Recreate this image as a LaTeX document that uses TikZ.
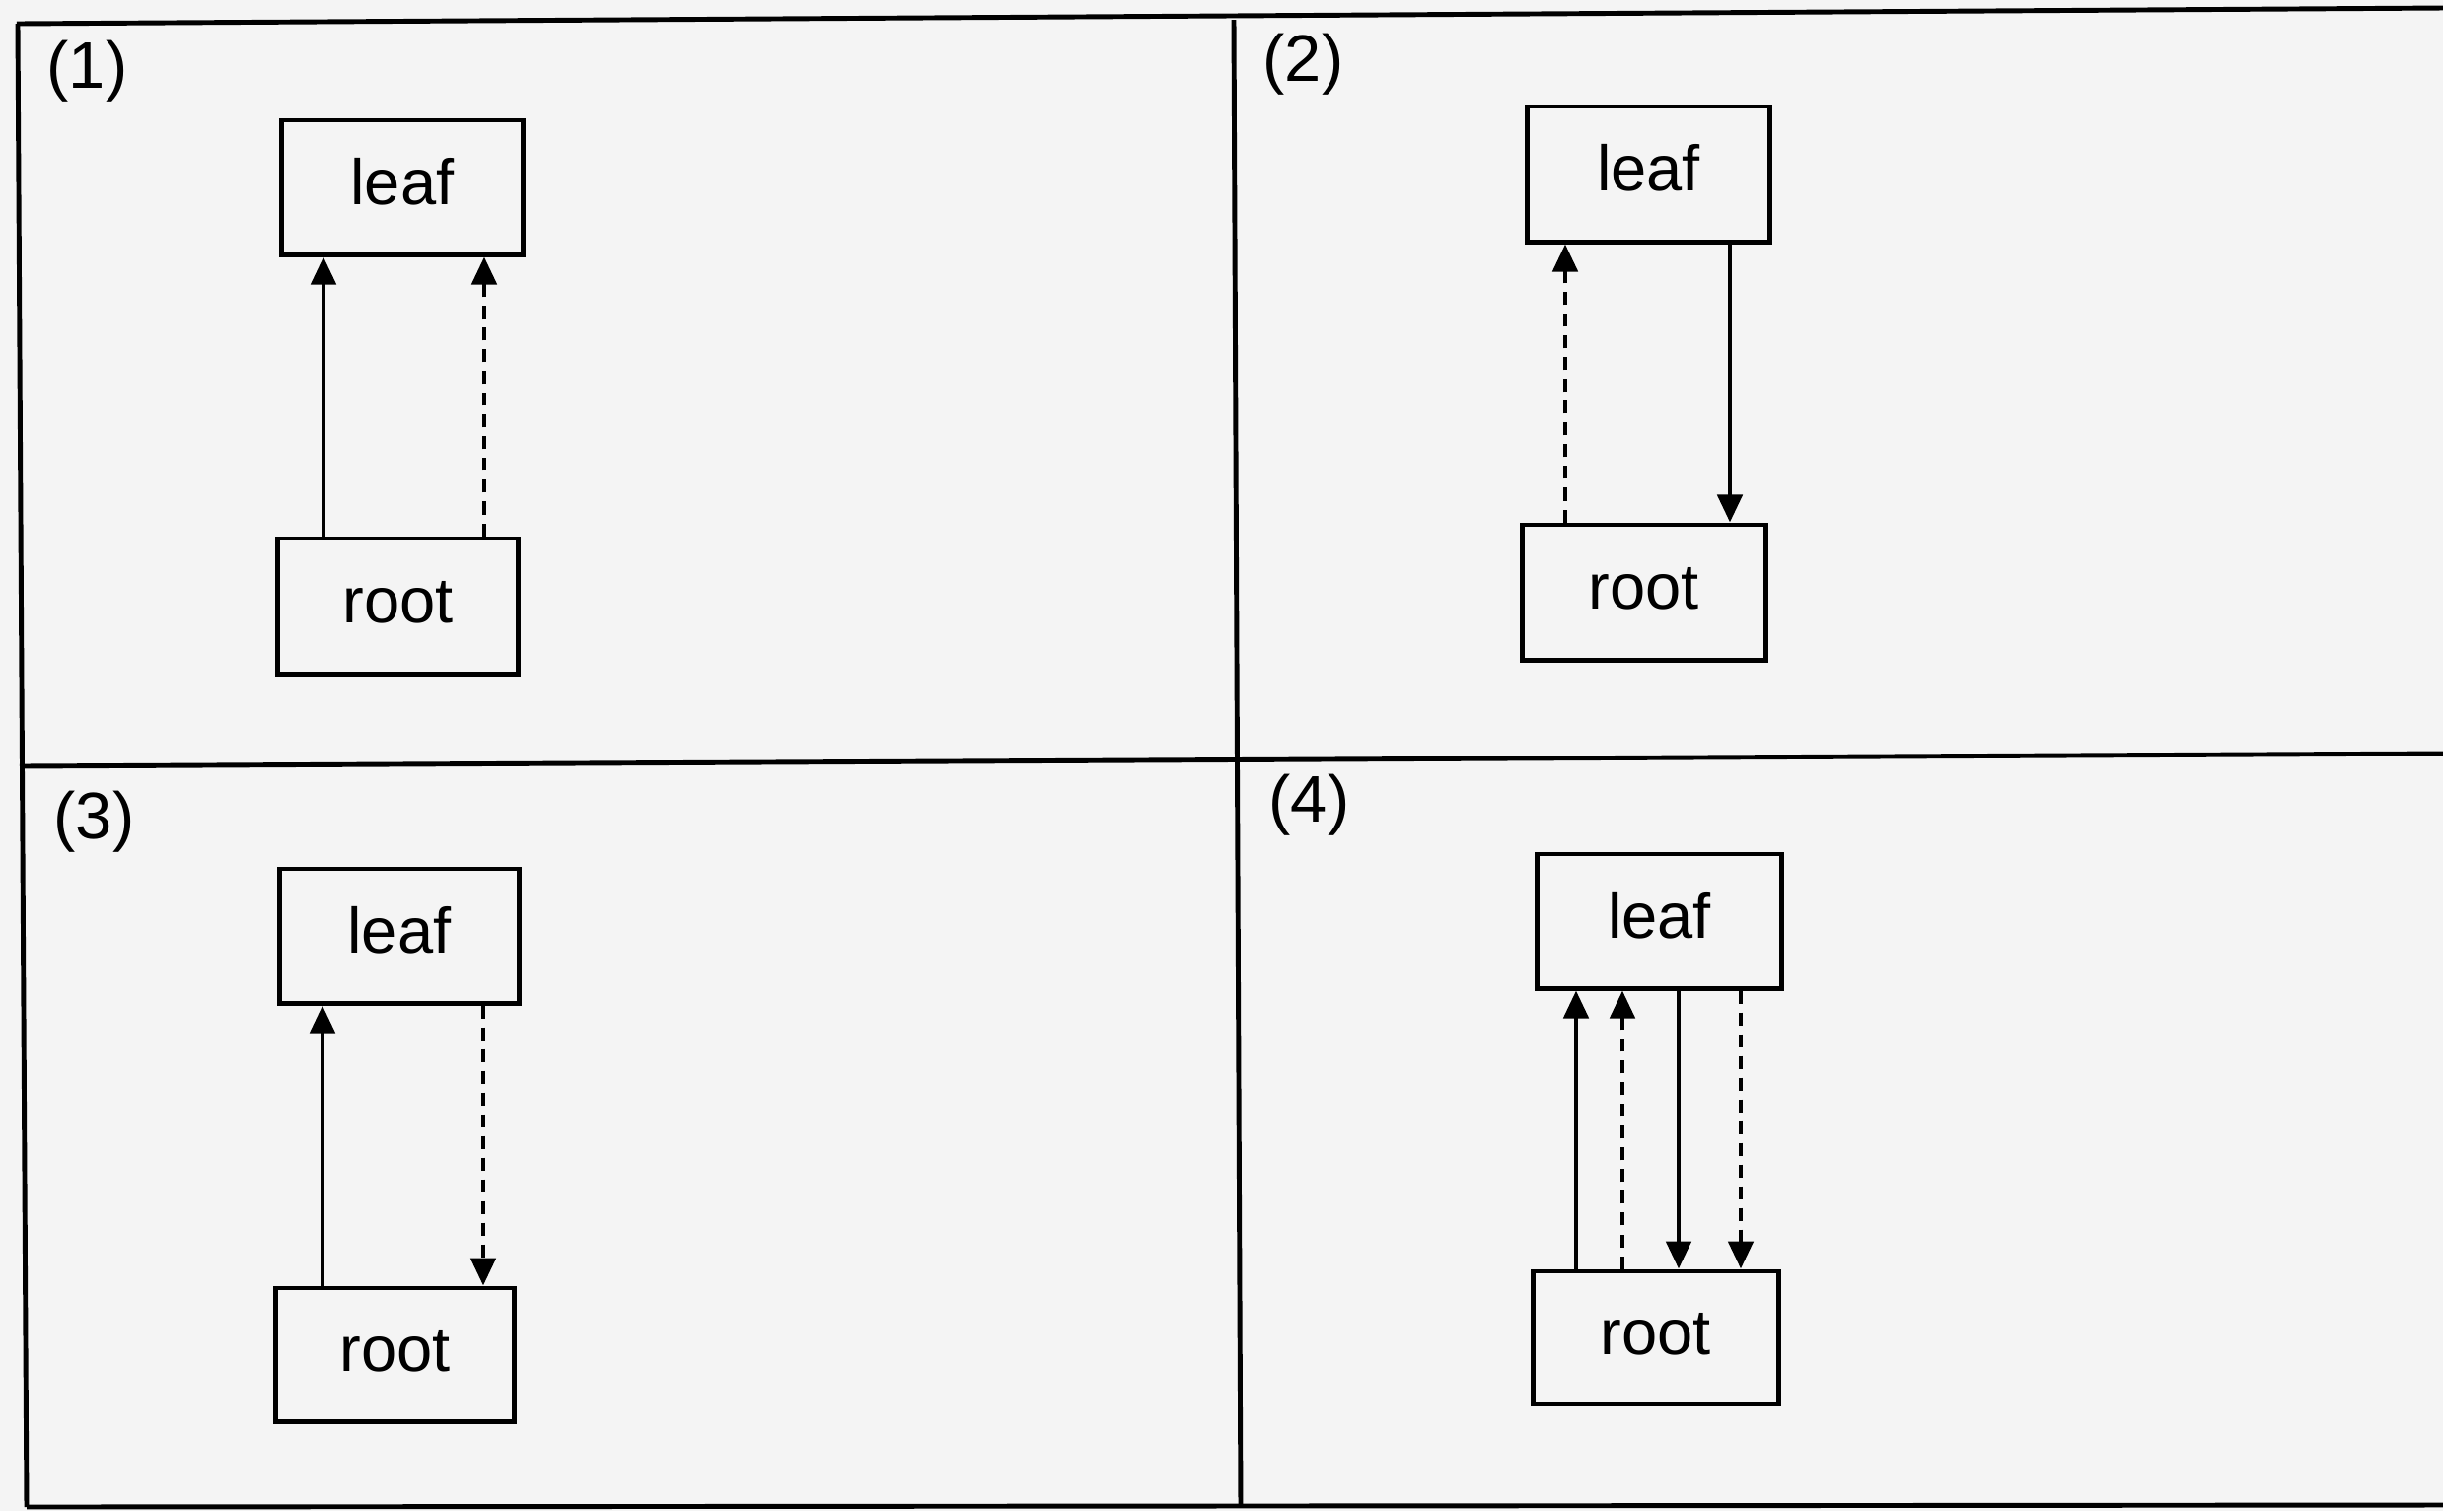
\documentclass[tikz,border=0pt]{standalone}
\usepackage{fontspec}
\setmainfont{Liberation Sans}
\usetikzlibrary{arrows.meta}
\definecolor{paper}{HTML}{F4F4F4}
\begin{document}
\begin{tikzpicture}[x=0.01cm,y=-0.01cm,
  box/.style={draw,line width=1.4pt,minimum width=#1,inner sep=0pt,text height=13.1pt,text depth=3.4pt,font=\fontsize{18.5}{20}\selectfont},
  box/.default=2.44cm,
  frame/.style={line width=1.4pt},
  lbl/.style={anchor=north west,inner sep=0pt,font=\fontsize{19}{20}\selectfont},
  arr/.style={line width=1.4pt,-{Triangle[length=2.8mm,width=2.5mm]}},
  darr/.style={arr,dash pattern=on 1.3mm off 0.9mm}]
\fill[paper] (0,0) rectangle (2477,1532);
\useasboundingbox (0,0) rectangle (2477,1532);
% frame
\draw[frame] (17,24) -- (2477,8);
\draw[frame] (18,24) -- (27,1528);
\draw[frame] (27,1528) -- (2477,1526);
\draw[frame] (1251,20) -- (1258,1528);
\draw[frame] (20,777) -- (2477,764);
% labels
\node[lbl] (l1) at (47,40) {(1)};
\node[lbl] (l2) at (1280,33) {(2)};
\node[lbl] (l3) at (54,801) {(3)};
\node[lbl] (l4) at (1286,784) {(4)};
% panel 1
\node[box, minimum height=1.36cm] (leaf1) at (408,190) {leaf};
\node[box=2.43cm, minimum height=1.37cm] (root1) at (403.5,614.5) {root};
\coordinate (a1) at (328,0);
\coordinate (b1) at (491,0);
\draw[arr] (root1.north -| a1) -- (leaf1.south -| a1);
\draw[darr] (root1.north -| b1) -- (leaf1.south -| b1);
% panel 2
\node[box=2.45cm, minimum height=1.37cm] (leaf2) at (1671.5,176.5) {leaf};
\node[box=2.46cm, minimum height=1.37cm] (root2) at (1667,600.5) {root};
\coordinate (a2) at (1587,0);
\coordinate (b2) at (1754,0);
\draw[darr] (root2.north -| a2) -- (leaf2.south -| a2);
\draw[arr] (leaf2.south -| b2) -- (root2.north -| b2);
% panel 3
\node[box=2.42cm, minimum height=1.36cm] (leaf3) at (405,949) {leaf};
\node[box=2.41cm, minimum height=1.35cm] (root3) at (400.5,1373.5) {root};
\coordinate (a3) at (327,0);
\coordinate (b3) at (490,0);
\draw[arr] (root3.north -| a3) -- (leaf3.south -| a3);
\draw[darr] (leaf3.south -| b3) -- (root3.north -| b3);
% panel 4
\node[box=2.48cm, minimum height=1.36cm] (leaf4) at (1682.5,934) {leaf};
\node[box=2.48cm, minimum height=1.34cm] (root4) at (1679,1356) {root};
\coordinate (a4) at (1598,0);
\coordinate (b4) at (1645,0);
\coordinate (c4) at (1702,0);
\coordinate (d4) at (1765,0);
\draw[arr] (root4.north -| a4) -- (leaf4.south -| a4);
\draw[darr] (root4.north -| b4) -- (leaf4.south -| b4);
\draw[arr] (leaf4.south -| c4) -- (root4.north -| c4);
\draw[darr] (leaf4.south -| d4) -- (root4.north -| d4);
\end{tikzpicture}
\end{document}
